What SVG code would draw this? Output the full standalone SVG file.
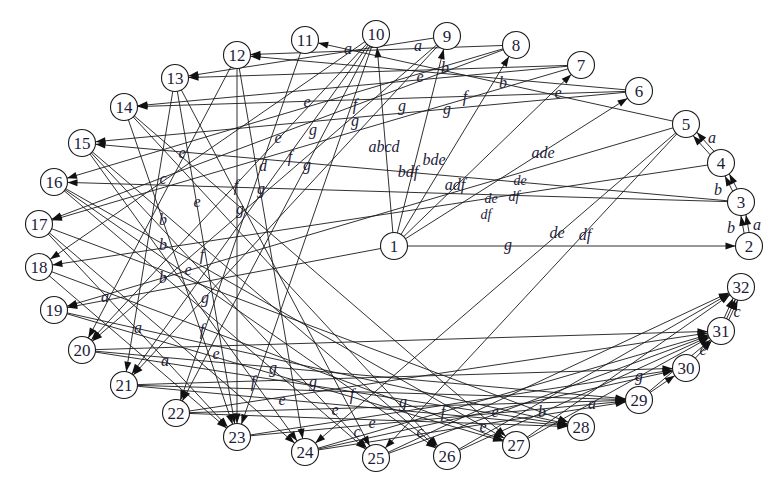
<svg xmlns="http://www.w3.org/2000/svg" width="783" height="486" viewBox="0 0 783 486">
<style>
.e{stroke:#1a1a1a;stroke-width:0.9;fill:none;marker-end:url(#ah)}
.n circle{fill:#fff;stroke:#1a1a1a;stroke-width:1.1}
.n text{font-family:"Liberation Serif",serif;font-size:17px;fill:#1c1c38;text-anchor:middle}
.lb{font-family:"Liberation Serif",serif;font-style:italic;font-size:16px;fill:#1c1c38;text-anchor:middle}
.sm{font-size:14px}
</style>
<defs>
<marker id="ah" markerWidth="12" markerHeight="8" refX="23.5" refY="3.5" orient="auto" markerUnits="userSpaceOnUse" overflow="visible"><path d="M0,0 L10,3.5 L0,7 z" fill="#111"/></marker>
</defs>
<rect width="783" height="486" fill="#fff"/>
<g id="edges">
<line class="e" x1="394" y1="246" x2="749" y2="246"/>
<line class="e" x1="746.5" y1="246.4" x2="738.5" y2="202.4"/>
<line class="e" x1="751.5" y1="245.6" x2="743.5" y2="201.6"/>
<line class="e" x1="738.8" y1="203.1" x2="718.8" y2="164.1"/>
<line class="e" x1="743.2" y1="200.9" x2="723.2" y2="161.9"/>
<line class="e" x1="719.1" y1="164.7" x2="684.1" y2="125.7"/>
<line class="e" x1="722.9" y1="161.3" x2="687.9" y2="122.3"/>
<line class="e" x1="394" y1="246" x2="639" y2="91"/>
<line class="e" x1="394" y1="246" x2="581" y2="65"/>
<line class="e" x1="394" y1="246" x2="516" y2="45"/>
<line class="e" x1="394" y1="246" x2="447" y2="36"/>
<line class="e" x1="394" y1="246" x2="376" y2="34"/>
<line class="e" x1="686" y1="124" x2="305" y2="40"/>
<line class="e" x1="639" y1="91" x2="237" y2="55"/>
<line class="e" x1="516" y1="45" x2="237" y2="55"/>
<line class="e" x1="581" y1="65" x2="175" y2="78"/>
<line class="e" x1="447" y1="36" x2="175" y2="78"/>
<line class="e" x1="639" y1="91" x2="124" y2="107"/>
<line class="e" x1="581" y1="65" x2="124" y2="107"/>
<line class="e" x1="639" y1="91" x2="82" y2="143"/>
<line class="e" x1="741" y1="202" x2="82" y2="143"/>
<line class="e" x1="741" y1="202" x2="54" y2="182"/>
<line class="e" x1="516" y1="45" x2="54" y2="182"/>
<line class="e" x1="516" y1="45" x2="39" y2="224"/>
<line class="e" x1="581" y1="65" x2="39" y2="224"/>
<line class="e" x1="721" y1="163" x2="39" y2="267"/>
<line class="e" x1="376" y1="34" x2="39" y2="267"/>
<line class="e" x1="686" y1="124" x2="54" y2="310"/>
<line class="e" x1="394" y1="246" x2="54" y2="310"/>
<line class="e" x1="237" y1="55" x2="82" y2="350"/>
<line class="e" x1="447" y1="36" x2="82" y2="350"/>
<line class="e" x1="376" y1="34" x2="82" y2="350"/>
<line class="e" x1="175" y1="78" x2="124" y2="385"/>
<line class="e" x1="376" y1="34" x2="124" y2="385"/>
<line class="e" x1="447" y1="36" x2="124" y2="385"/>
<line class="e" x1="376" y1="34" x2="176" y2="413"/>
<line class="e" x1="305" y1="40" x2="176" y2="413"/>
<line class="e" x1="237" y1="55" x2="237" y2="437"/>
<line class="e" x1="175" y1="78" x2="237" y2="437"/>
<line class="e" x1="376" y1="34" x2="237" y2="437"/>
<line class="e" x1="124" y1="107" x2="237" y2="437"/>
<line class="e" x1="39" y1="224" x2="237" y2="437"/>
<line class="e" x1="39" y1="267" x2="237" y2="437"/>
<line class="e" x1="237" y1="55" x2="305" y2="452"/>
<line class="e" x1="686" y1="124" x2="305" y2="452"/>
<line class="e" x1="82" y1="143" x2="305" y2="452"/>
<line class="e" x1="39" y1="224" x2="305" y2="452"/>
<line class="e" x1="175" y1="78" x2="376" y2="458"/>
<line class="e" x1="686" y1="124" x2="376" y2="458"/>
<line class="e" x1="82" y1="143" x2="376" y2="458"/>
<line class="e" x1="54" y1="182" x2="376" y2="458"/>
<line class="e" x1="124" y1="107" x2="447" y2="456"/>
<line class="e" x1="54" y1="182" x2="447" y2="456"/>
<line class="e" x1="82" y1="143" x2="447" y2="456"/>
<line class="e" x1="54" y1="182" x2="516" y2="445"/>
<line class="e" x1="124" y1="107" x2="516" y2="445"/>
<line class="e" x1="39" y1="267" x2="516" y2="445"/>
<line class="e" x1="54" y1="310" x2="516" y2="445"/>
<line class="e" x1="54" y1="310" x2="581" y2="427"/>
<line class="e" x1="82" y1="350" x2="581" y2="427"/>
<line class="e" x1="124" y1="385" x2="581" y2="427"/>
<line class="e" x1="176" y1="413" x2="581" y2="427"/>
<line class="e" x1="39" y1="224" x2="581" y2="427"/>
<line class="e" x1="82" y1="350" x2="639" y2="400"/>
<line class="e" x1="176" y1="413" x2="639" y2="400"/>
<line class="e" x1="237" y1="437" x2="639" y2="400"/>
<line class="e" x1="305" y1="452" x2="639" y2="400"/>
<line class="e" x1="124" y1="385" x2="639" y2="400"/>
<line class="e" x1="124" y1="385" x2="686" y2="368"/>
<line class="e" x1="237" y1="437" x2="686" y2="368"/>
<line class="e" x1="639" y1="400" x2="686" y2="368"/>
<line class="e" x1="305" y1="452" x2="686" y2="368"/>
<line class="e" x1="376" y1="458" x2="721" y2="331"/>
<line class="e" x1="447" y1="456" x2="721" y2="331"/>
<line class="e" x1="305" y1="452" x2="721" y2="331"/>
<line class="e" x1="516" y1="445" x2="721" y2="331"/>
<line class="e" x1="176" y1="413" x2="721" y2="331"/>
<line class="e" x1="686" y1="368" x2="721" y2="331"/>
<line class="e" x1="82" y1="350" x2="721" y2="331"/>
<line class="e" x1="639" y1="400" x2="721" y2="331"/>
<line class="e" x1="376" y1="458" x2="741" y2="287"/>
<line class="e" x1="447" y1="456" x2="741" y2="287"/>
<line class="e" x1="516" y1="445" x2="741" y2="287"/>
<line class="e" x1="718.7" y1="330" x2="738.7" y2="286"/>
<line class="e" x1="721" y1="331" x2="741" y2="287"/>
<line class="e" x1="723.3" y1="332" x2="743.3" y2="288"/>
</g>
<g id="labels">
<text class="lb" x="348" y="54">a</text>
<text class="lb" x="418" y="51">a</text>
<text class="lb" x="445" y="73">b</text>
<text class="lb" x="503" y="88">b</text>
<text class="lb" x="420" y="82">e</text>
<text class="lb" x="558" y="98">e</text>
<text class="lb" x="355" y="110">f</text>
<text class="lb" x="465" y="102">f</text>
<text class="lb" x="402" y="111">g</text>
<text class="lb" x="447" y="114">g</text>
<text class="lb" x="307" y="107">e</text>
<text class="lb" x="313" y="135">g</text>
<text class="lb" x="355" y="126">g</text>
<text class="lb" x="278" y="143">e</text>
<text class="lb" x="290" y="162">f</text>
<text class="lb" x="307" y="170">g</text>
<text class="lb" x="263" y="171">d</text>
<text class="lb" x="182" y="158">e</text>
<text class="lb" x="163" y="184">c</text>
<text class="lb" x="236" y="191">f</text>
<text class="lb" x="261" y="194">g</text>
<text class="lb" x="240" y="214">g</text>
<text class="lb" x="197" y="207">e</text>
<text class="lb" x="163" y="225">b</text>
<text class="lb" x="163" y="250">b</text>
<text class="lb" x="202" y="260">f</text>
<text class="lb" x="188" y="275">e</text>
<text class="lb" x="163" y="283">b</text>
<text class="lb" x="205" y="303">g</text>
<text class="lb" x="105" y="302">a</text>
<text class="lb" x="138" y="333">a</text>
<text class="lb" x="202" y="335">f</text>
<text class="lb" x="216" y="359">e</text>
<text class="lb" x="165" y="366">a</text>
<text class="lb" x="253" y="387">f</text>
<text class="lb" x="273" y="373">g</text>
<text class="lb" x="313" y="387">g</text>
<text class="lb" x="282" y="405">e</text>
<text class="lb" x="352" y="400">f</text>
<text class="lb" x="335" y="415">e</text>
<text class="lb" x="372" y="428">e</text>
<text class="lb" x="403" y="407">g</text>
<text class="lb" x="443" y="417">f</text>
<text class="lb" x="495" y="417">e</text>
<text class="lb" x="483" y="432">e</text>
<text class="lb" x="357" y="437">c</text>
<text class="lb" x="420" y="437">c</text>
<text class="lb" x="542" y="417">b</text>
<text class="lb" x="592" y="409">a</text>
<text class="lb" x="639" y="381">g</text>
<text class="lb" x="703" y="355">e</text>
<text class="lb" x="737" y="317">c</text>
<text class="lb" x="557" y="238">de</text>
<text class="lb" x="585" y="240">df</text>
<text class="lb sm" x="520" y="185">de</text>
<text class="lb sm" x="514" y="201">df</text>
<text class="lb sm" x="491" y="203">de</text>
<text class="lb sm" x="486" y="219">df</text>
<text class="lb" x="508" y="250">g</text>
<text class="lb" x="384" y="152">abcd</text>
<text class="lb" x="408" y="177">bdf</text>
<text class="lb" x="434" y="165">bde</text>
<text class="lb" x="455" y="190">adf</text>
<text class="lb" x="543" y="158">ade</text>
<text class="lb" x="712" y="143">a</text>
<text class="lb" x="718" y="195">b</text>
<text class="lb" x="731" y="233">b</text>
<text class="lb" x="757" y="230">a</text>
</g>
<g id="n1" class="n"><circle cx="394" cy="246" r="13.5"/><text x="394" y="252">1</text></g>
<g id="n2" class="n"><circle cx="749" cy="246" r="13.5"/><text x="749" y="252">2</text></g>
<g id="n3" class="n"><circle cx="741" cy="202" r="13.5"/><text x="741" y="208">3</text></g>
<g id="n4" class="n"><circle cx="721" cy="163" r="13.5"/><text x="721" y="169">4</text></g>
<g id="n5" class="n"><circle cx="686" cy="124" r="13.5"/><text x="686" y="130">5</text></g>
<g id="n6" class="n"><circle cx="639" cy="91" r="13.5"/><text x="639" y="97">6</text></g>
<g id="n7" class="n"><circle cx="581" cy="65" r="13.5"/><text x="581" y="71">7</text></g>
<g id="n8" class="n"><circle cx="516" cy="45" r="13.5"/><text x="516" y="51">8</text></g>
<g id="n9" class="n"><circle cx="447" cy="36" r="13.5"/><text x="447" y="42">9</text></g>
<g id="n10" class="n"><circle cx="376" cy="34" r="13.5"/><text x="376" y="40">10</text></g>
<g id="n11" class="n"><circle cx="305" cy="40" r="13.5"/><text x="305" y="46">11</text></g>
<g id="n12" class="n"><circle cx="237" cy="55" r="13.5"/><text x="237" y="61">12</text></g>
<g id="n13" class="n"><circle cx="175" cy="78" r="13.5"/><text x="175" y="84">13</text></g>
<g id="n14" class="n"><circle cx="124" cy="107" r="13.5"/><text x="124" y="113">14</text></g>
<g id="n15" class="n"><circle cx="82" cy="143" r="13.5"/><text x="82" y="149">15</text></g>
<g id="n16" class="n"><circle cx="54" cy="182" r="13.5"/><text x="54" y="188">16</text></g>
<g id="n17" class="n"><circle cx="39" cy="224" r="13.5"/><text x="39" y="230">17</text></g>
<g id="n18" class="n"><circle cx="39" cy="267" r="13.5"/><text x="39" y="273">18</text></g>
<g id="n19" class="n"><circle cx="54" cy="310" r="13.5"/><text x="54" y="316">19</text></g>
<g id="n20" class="n"><circle cx="82" cy="350" r="13.5"/><text x="82" y="356">20</text></g>
<g id="n21" class="n"><circle cx="124" cy="385" r="13.5"/><text x="124" y="391">21</text></g>
<g id="n22" class="n"><circle cx="176" cy="413" r="13.5"/><text x="176" y="419">22</text></g>
<g id="n23" class="n"><circle cx="237" cy="437" r="13.5"/><text x="237" y="443">23</text></g>
<g id="n24" class="n"><circle cx="305" cy="452" r="13.5"/><text x="305" y="458">24</text></g>
<g id="n25" class="n"><circle cx="376" cy="458" r="13.5"/><text x="376" y="464">25</text></g>
<g id="n26" class="n"><circle cx="447" cy="456" r="13.5"/><text x="447" y="462">26</text></g>
<g id="n27" class="n"><circle cx="516" cy="445" r="13.5"/><text x="516" y="451">27</text></g>
<g id="n28" class="n"><circle cx="581" cy="427" r="13.5"/><text x="581" y="433">28</text></g>
<g id="n29" class="n"><circle cx="639" cy="400" r="13.5"/><text x="639" y="406">29</text></g>
<g id="n30" class="n"><circle cx="686" cy="368" r="13.5"/><text x="686" y="374">30</text></g>
<g id="n31" class="n"><circle cx="721" cy="331" r="13.5"/><text x="721" y="337">31</text></g>
<g id="n32" class="n"><circle cx="741" cy="287" r="13.5"/><text x="741" y="293">32</text></g>
</svg>
